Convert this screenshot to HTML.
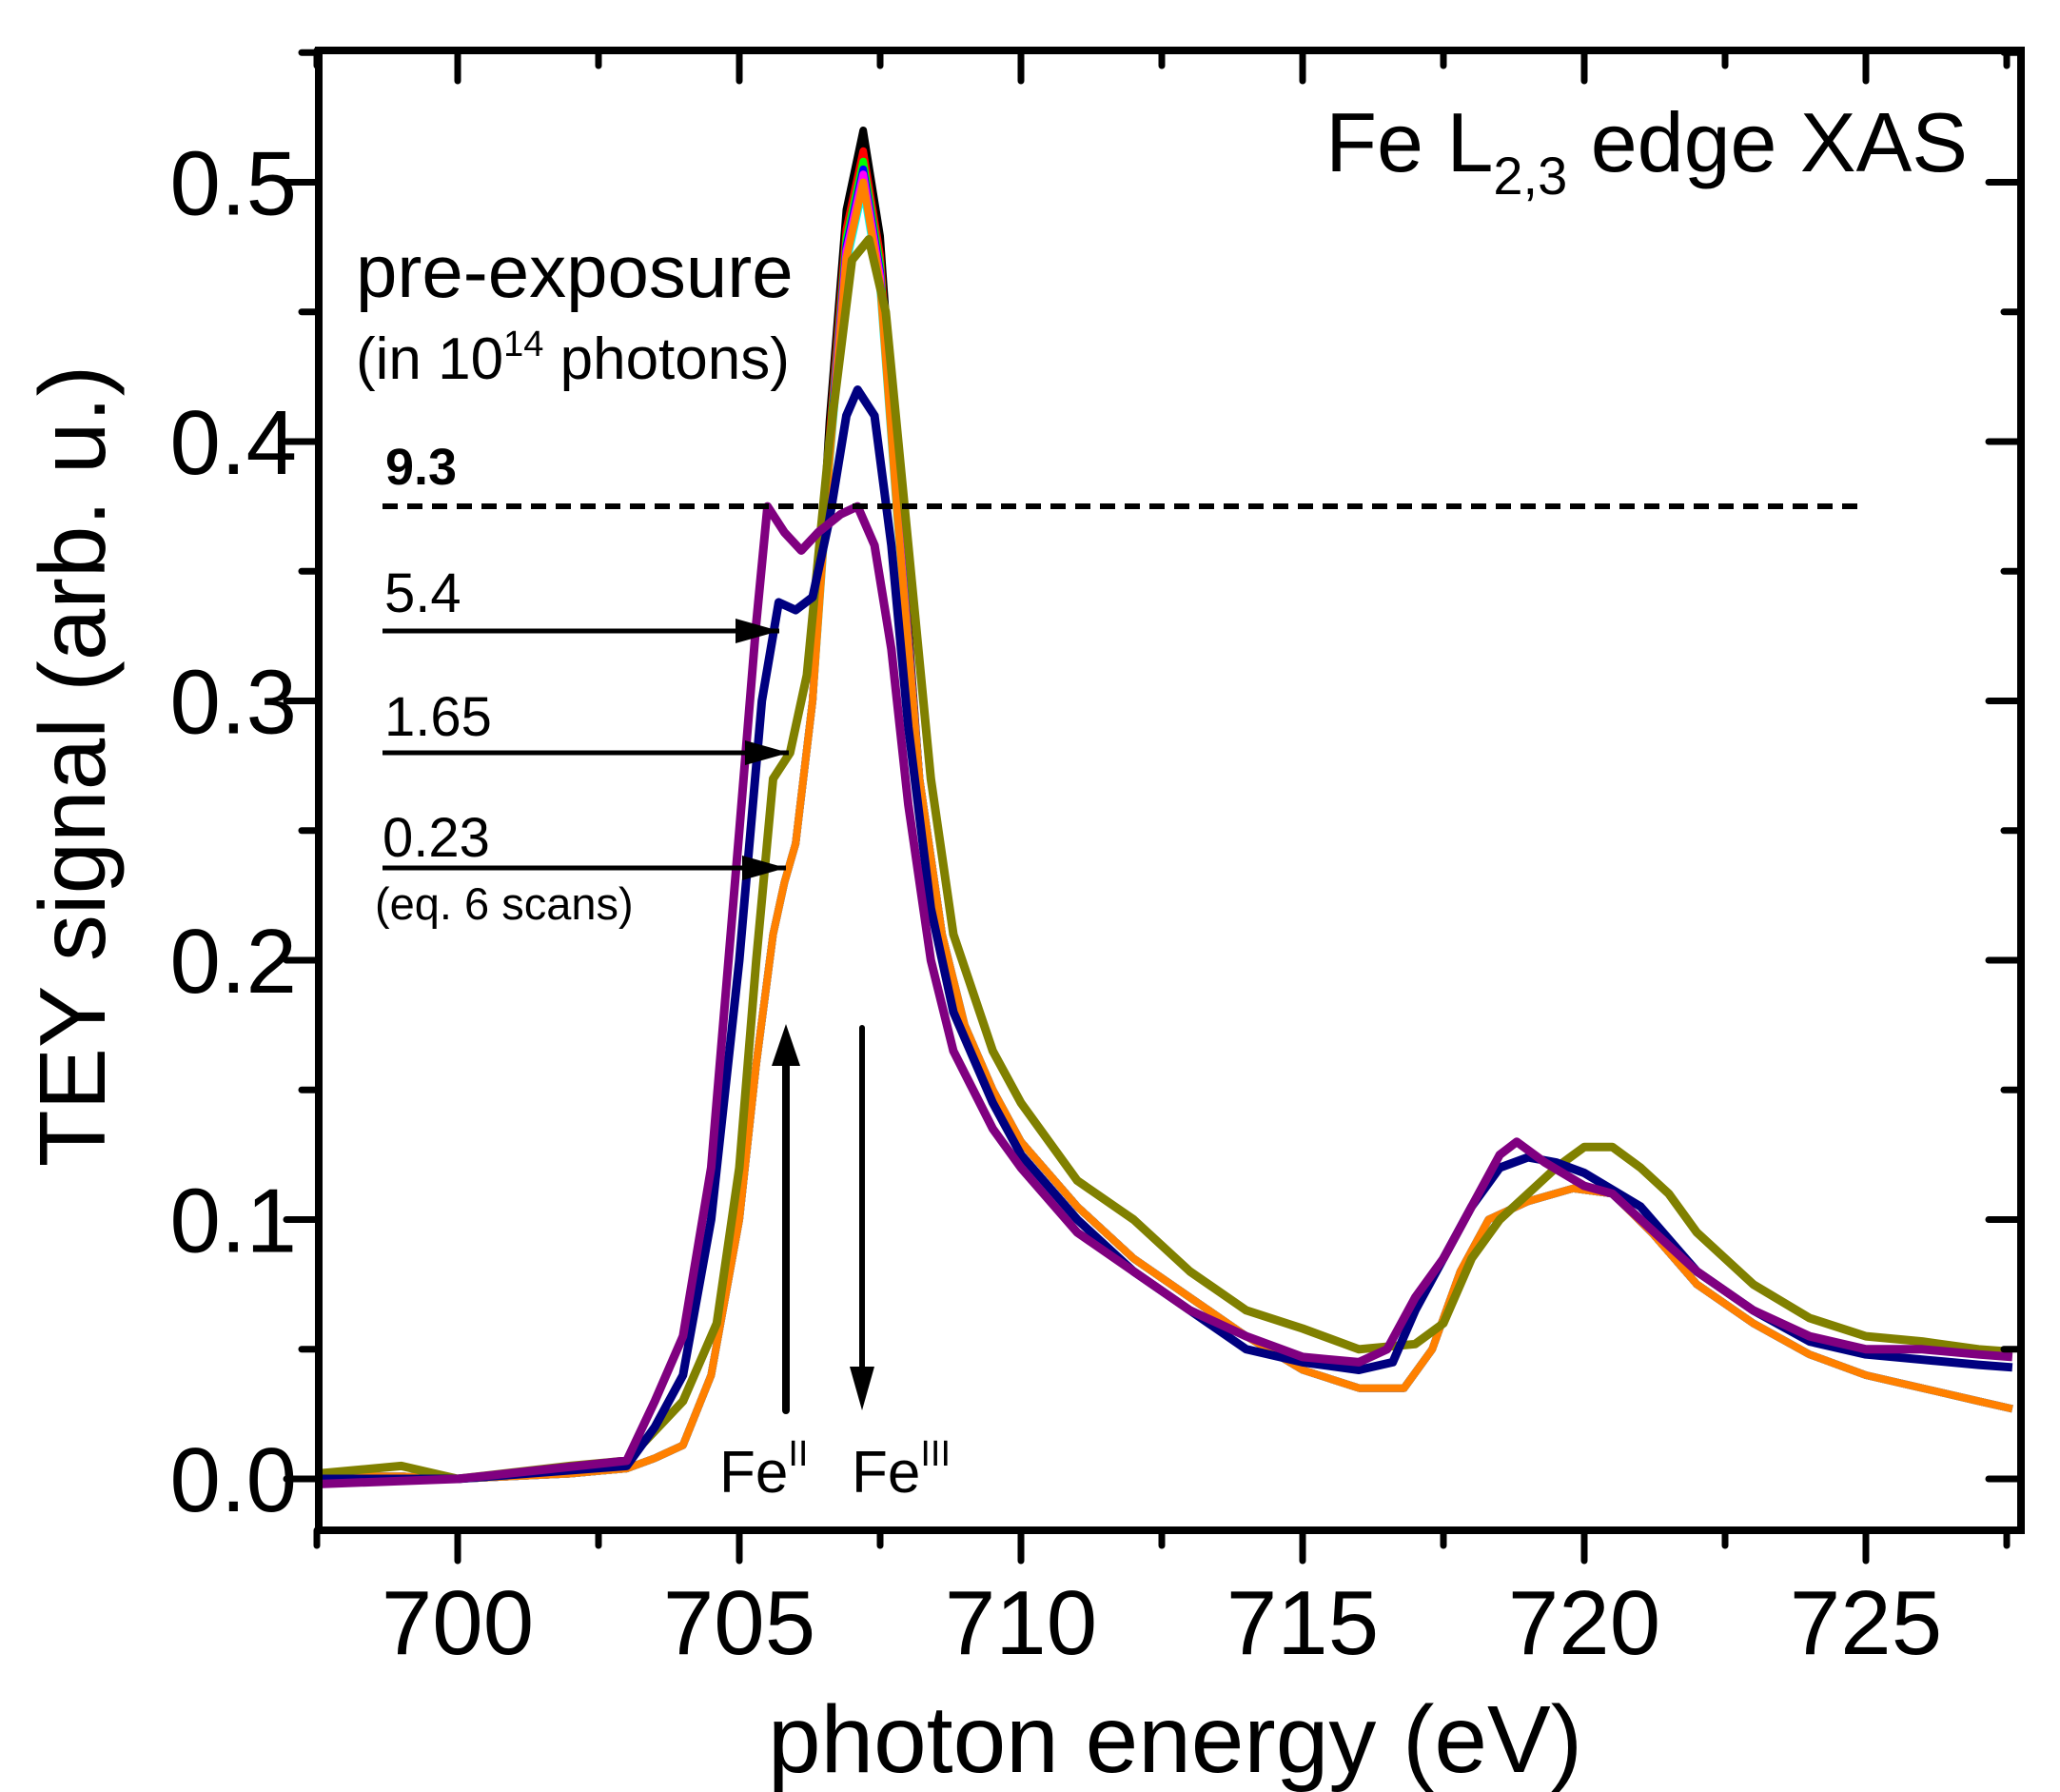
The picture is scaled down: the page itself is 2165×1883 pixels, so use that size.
<!DOCTYPE html>
<html><head><meta charset="utf-8"><style>
html,body{margin:0;padding:0;background:#fff;}
svg{display:block;font-family:"Liberation Sans",Arial,sans-serif;}
</style></head><body>
<svg id="chart" width="2165" height="1883" viewBox="0 0 2165 1883" xmlns="http://www.w3.org/2000/svg">
<g id="curves"></g>
<g id="axes"></g>
<g id="annot"></g>
</svg>
<script>
const xTicks=[700,705,710,715,720,725];
const yTicks=[0.0,0.1,0.2,0.3,0.4,0.5];
const mainE=[697.5,699,700,701,702,703,703.5,704,704.5,705,705.3,705.6,705.8,706,706.3,706.6,706.9,707.2,707.5,707.8,708.2,708.6,709,709.5,710,711,712,713,714,715,716,716.8,717.3,717.8,718.3,719,719.8,720.5,721.2,722,723,724,725,726,727,728];
const mainV=[0.001,0.001,0,0.001,0.002,0.004,0.008,0.013,0.04,0.1,0.16,0.21,0.23,0.245,0.3,0.4,0.48,0.51,0.47,0.38,0.27,0.21,0.175,0.15,0.13,0.105,0.085,0.07,0.055,0.042,0.035,0.035,0.05,0.08,0.1,0.107,0.112,0.11,0.095,0.075,0.06,0.048,0.04,0.035,0.03,0.027];
const mainPeaks=[0.52,0.512,0.508,0.505,0.503,0.498,0.50];
const mainColors=["#000000","#ff0000","#00ff00","#0000ff","#ff00ff","#00ffff","#ff8000"];
const oliveE=[697.5,699,700,702,703,704,704.6,705,705.3,705.6,705.9,706.2,706.6,707,707.3,707.6,708,708.4,708.8,709.5,710,711,712,713,714,715,716,717,717.5,718,718.5,719,719.5,720,720.5,721,721.5,722,723,724,725,726,727,728];
const oliveV=[0.002,0.005,0,0.005,0.007,0.03,0.06,0.12,0.2,0.27,0.28,0.31,0.4,0.47,0.478,0.45,0.36,0.27,0.21,0.165,0.145,0.115,0.1,0.08,0.065,0.058,0.05,0.052,0.06,0.085,0.1,0.11,0.12,0.128,0.128,0.12,0.11,0.095,0.075,0.062,0.055,0.053,0.05,0.049];
const navyE=[697.5,700,703,703.5,704,704.5,705,705.4,705.7,706,706.3,706.6,706.9,707.1,707.4,707.7,708,708.4,708.8,709.5,710,711,712,713,714,715,716,716.6,717,717.5,718,718.5,719,719.5,720,721,722,723,724,725,726,727,728];
const navyV=[0,0,0.005,0.02,0.04,0.1,0.2,0.3,0.338,0.335,0.34,0.37,0.41,0.42,0.41,0.36,0.29,0.22,0.18,0.145,0.125,0.1,0.08,0.065,0.05,0.045,0.042,0.045,0.065,0.085,0.105,0.12,0.124,0.122,0.118,0.105,0.08,0.065,0.053,0.048,0.046,0.044,0.043];
const purpleE=[697.5,700,703,703.5,704,704.5,705,705.3,705.5,705.8,706.1,706.4,706.8,707.1,707.4,707.7,708,708.4,708.8,709.5,710,711,712,713,714,715,716,716.5,717,717.5,718,718.5,718.8,719.3,720,720.5,721,722,723,724,725,726,727,728];
const purpleV=[-0.002,0,0.007,0.03,0.055,0.12,0.25,0.33,0.375,0.365,0.358,0.365,0.372,0.375,0.36,0.32,0.26,0.2,0.165,0.135,0.12,0.095,0.08,0.065,0.055,0.047,0.045,0.05,0.07,0.085,0.105,0.125,0.13,0.122,0.113,0.11,0.1,0.08,0.065,0.055,0.05,0.05,0.048,0.047];

const L=335,R=2124,T=53,B=1608;
const X=e=>481+(e-700)*59.2;
const Y=v=>1554-v*2725;
const NS="http://www.w3.org/2000/svg";
function mk(tag,attrs,parent){const el=document.createElementNS(NS,tag);for(const k in attrs)el.setAttribute(k,attrs[k]);parent.appendChild(el);return el;}
function pathFrom(E,V){return E.map((e,i)=>(i?"L":"M")+X(Math.min(Math.max(e,697.5),727.6)).toFixed(1)+","+Y(V[i]).toFixed(1)).join("");}
const cg=document.getElementById("curves");
mainColors.forEach((c,k)=>{
  const pk=mainPeaks[k], base=0.51;
  const V=mainV.map((v,i)=>v>0.3?v*(pk/base):v);
  const p=mk("path",{d:pathFrom(mainE,V),fill:"none",stroke:c,"stroke-width":8,"stroke-linejoin":"round"},cg);
  
  
});
[[oliveE,oliveV,"#808000","spectrum-1.65"],[navyE,navyV,"#000080","spectrum-5.4"],[purpleE,purpleV,"#800080","spectrum-9.3"]].forEach(s=>{
  const p=mk("path",{d:pathFrom(s[0],s[1]),fill:"none",stroke:s[2],"stroke-width":9,"stroke-linejoin":"round"},cg);
  
  
});
const ag=document.getElementById("axes");
const frame=mk("rect",{x:L,y:T,width:R-L,height:B-T,fill:"none",stroke:"#000","stroke-width":8},ag);


for(let e=697.5;e<=727.7;e+=2.5){
  const major=Math.abs(e%5)<0.01;const x=X(e);
  mk("line",{x1:x,x2:x,y1:B,y2:B+(major?32:16),stroke:"#000","stroke-width":7,"stroke-linecap":"round"},ag);
  mk("line",{x1:x,x2:x,y1:T,y2:T+(major?32:16),stroke:"#000","stroke-width":7,"stroke-linecap":"round"},ag);
}
xTicks.forEach(t=>{const tx=mk("text",{x:X(t),y:1738,"font-size":96,"text-anchor":"middle"},ag);tx.textContent=t;
  
  });
for(let v=-0.0;v<=0.55;v+=0.05){
  const major=Math.round(v*100)%10===0;const y=Y(v);
  mk("line",{x1:L,x2:L-(major?34:18),y1:y,y2:y,stroke:"#000","stroke-width":7,"stroke-linecap":"round"},ag);
  mk("line",{x1:R,x2:R-(major?34:18),y1:y,y2:y,stroke:"#000","stroke-width":7,"stroke-linecap":"round"},ag);
}
yTicks.forEach(t=>{const tx=mk("text",{x:312,y:Y(t)+34,"font-size":96,"text-anchor":"end"},ag);tx.textContent=t.toFixed(1);
  
  });
</script>
<svg style="position:absolute;left:0;top:0" width="2165" height="1883" font-family="Liberation Sans, Arial, sans-serif">
<text x="1235" y="1862" font-size="100" text-anchor="middle">photon energy (eV)</text>
<text transform="translate(110,805) rotate(-90)" font-size="98" text-anchor="middle">TEY signal (arb. u.)</text>
<text x="2068" y="180" font-size="88" text-anchor="end">Fe L<tspan font-size="56" dy="24">2,3</tspan><tspan dy="-24"> edge XAS</tspan></text>
<text x="374" y="312" font-size="78">pre-exposure</text>
<text x="374" y="398" font-size="62">(in 10<tspan font-size="38" dy="-24">14</tspan><tspan dy="24"> photons)</tspan></text>
<text x="405" y="509" font-size="54" font-weight="bold">9.3</text>
<line x1="402" y1="532" x2="1954" y2="532" stroke="#000" stroke-width="6" stroke-dasharray="16,10"/>
<text x="404" y="643" font-size="58">5.4</text>
<line x1="402" y1="663" x2="819" y2="663" stroke="#000" stroke-width="5"/>
<path d="M819,663 l-46,-13 v26z" fill="#000"/>
<text x="404" y="773" font-size="58">1.65</text>
<line x1="402" y1="791" x2="829" y2="791" stroke="#000" stroke-width="5"/>
<path d="M829,791 l-46,-13 v26z" fill="#000"/>
<text x="402" y="900" font-size="58">0.23</text>
<line x1="402" y1="912" x2="826" y2="912" stroke="#000" stroke-width="5"/>
<path d="M826,912 l-46,-13 v26z" fill="#000"/>
<text x="394" y="966" font-size="47">(eq. 6 scans)</text>
<line x1="826" y1="1482" x2="826" y2="1110" stroke="#000" stroke-width="8" stroke-linecap="round"/>
<path d="M826,1076 l-15,44 h30z" fill="#000"/>
<line x1="906" y1="1080" x2="906" y2="1445" stroke="#000" stroke-width="6" stroke-linecap="round"/>
<path d="M906,1482 l-13,-46 h26z" fill="#000"/>
<text x="756" y="1568" font-size="62">Fe<tspan font-size="38" dy="-28">II</tspan></text>
<text x="895" y="1568" font-size="62">Fe<tspan font-size="38" dy="-28">III</tspan></text>
</svg>
</body></html>
